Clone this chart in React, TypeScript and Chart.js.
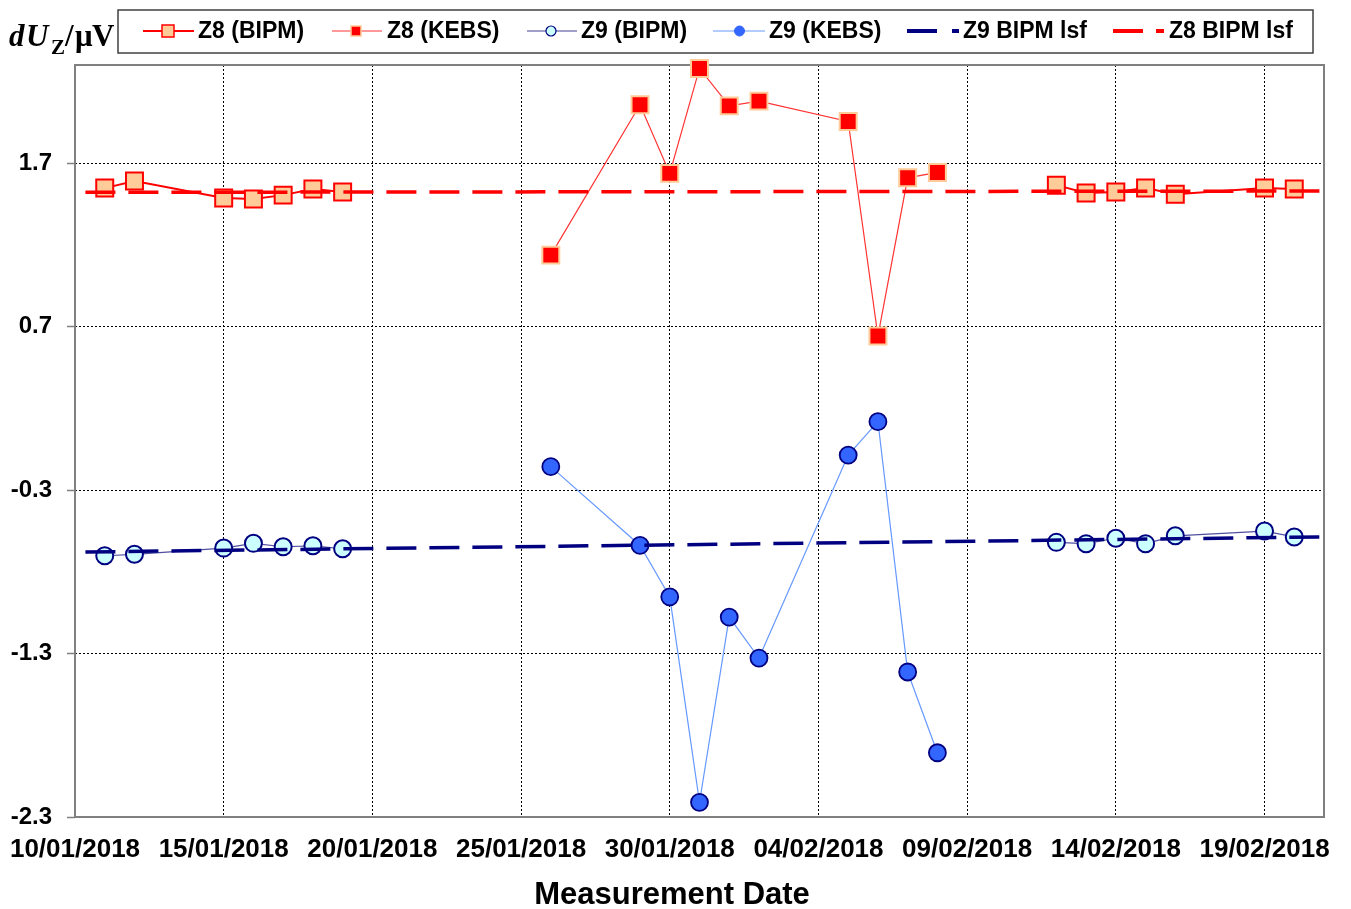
import React, { useEffect, useRef } from "react";
import { Chart, registerables } from "chart.js";

Chart.register(...registerables);

// ---------------- data ----------------
const BASE_DATE = "2018-01-10";
const X_MAX_DATE = "2018-02-21";
const X_TICK_DATES = [
  "2018-01-10", "2018-01-15", "2018-01-20", "2018-01-25", "2018-01-30",
  "2018-02-04", "2018-02-09", "2018-02-14", "2018-02-19",
];
const Y_MIN = -2.3;
const Y_MAX = 2.3;
const Y_TICKS = [-2.3, -1.3, -0.3, 0.7, 1.7];

const BIPM_DATES = [
  "2018-01-11", "2018-01-12", "2018-01-15", "2018-01-16", "2018-01-17", "2018-01-18", "2018-01-19",
  "2018-02-12", "2018-02-13", "2018-02-14", "2018-02-15", "2018-02-16", "2018-02-19", "2018-02-20",
];
const Z8_BIPM = [1.547, 1.59, 1.486, 1.48, 1.504, 1.541, 1.523, 1.565, 1.517, 1.523, 1.547, 1.51, 1.547, 1.541];
const Z9_BIPM = [-0.702, -0.693, -0.655, -0.626, -0.647, -0.641, -0.659, -0.62, -0.628, -0.595, -0.628, -0.58, -0.551, -0.587];

const KEBS_DATES = [
  "2018-01-26", "2018-01-29", "2018-01-30", "2018-01-31", "2018-02-01",
  "2018-02-02", "2018-02-05", "2018-02-06", "2018-02-07", "2018-02-08",
];
const Z8_KEBS = [1.137, 2.057, 1.637, 2.279, 2.05, 2.079, 1.955, 0.642, 1.61, 1.643];
const Z9_KEBS = [-0.157, -0.639, -0.953, -2.21, -1.077, -1.328, -0.086, 0.118, -1.413, -1.907];

const LSF_DATES = ["2018-01-10T08:24:00", "2018-02-20T20:24:00"];
const Z8_LSF = [1.521, 1.529];
const Z9_LSF = [-0.679, -0.587];

const SERIES_LABELS = ["Z8 (BIPM)", "Z8 (KEBS)", "Z9 (BIPM)", "Z9 (KEBS)", "Z9 BIPM lsf", "Z8 BIPM lsf"];
const X_TITLE = "Measurement Date";

// ---------------- helpers ----------------
const DAY_MS = 86400000;
const baseMs = Date.parse(BASE_DATE + "T00:00:00Z");
function dayOf(s: string): number {
  const iso = s.length <= 10 ? s + "T00:00:00Z" : s + "Z";
  return (Date.parse(iso) - baseMs) / DAY_MS;
}
function fmtDay(day: number): string {
  const d = new Date(baseMs + Math.round(day * DAY_MS));
  const dd = String(d.getUTCDate()).padStart(2, "0");
  const mm = String(d.getUTCMonth() + 1).padStart(2, "0");
  return `${dd}/${mm}/${d.getUTCFullYear()}`;
}
function pts(dates: string[], vals: number[]) {
  return dates.map((d, i) => ({ x: dayOf(d), y: vals[i] }));
}
const gapSegment = {
  borderColor: (ctx: any) => (ctx.p1.parsed.x - ctx.p0.parsed.x > 5 ? "rgba(0,0,0,0)" : undefined),
};

const SANS = "'Liberation Sans', Arial, sans-serif";
const SERIF = "'Liberation Serif', 'Times New Roman', serif";

// ---------------- plugins ----------------
const framePlugin = {
  id: "frame",
  beforeDatasetsDraw(chart: any) {
    const { ctx, chartArea: a } = chart;
    ctx.save();
    ctx.strokeStyle = "#808080";
    ctx.lineWidth = 2;
    ctx.strokeRect(a.left, a.top, a.right - a.left, a.bottom - a.top);
    ctx.restore();
  },
};

const decorPlugin = {
  id: "decor",
  afterDraw(chart: any) {
    const ctx: CanvasRenderingContext2D = chart.ctx;
    ctx.save();
    // legend box
    ctx.fillStyle = "#fff";
    ctx.fillRect(118, 10, 1195, 43);
    ctx.strokeStyle = "#404040";
    ctx.lineWidth = 1.5;
    ctx.strokeRect(118, 10, 1195, 43);
    const LY = 31;
    const line = (x0: number, x1: number, color: string, w: number) => {
      ctx.beginPath();
      ctx.strokeStyle = color;
      ctx.lineWidth = w;
      ctx.moveTo(x0, LY);
      ctx.lineTo(x1, LY);
      ctx.stroke();
    };
    const square = (cx: number, s: number, fill: string, stroke: string, bw: number) => {
      ctx.fillStyle = fill;
      ctx.fillRect(cx - s / 2, LY - s / 2, s, s);
      ctx.strokeStyle = stroke;
      ctx.lineWidth = bw;
      ctx.strokeRect(cx - s / 2, LY - s / 2, s, s);
    };
    const circle = (cx: number, r: number, fill: string, stroke: string, bw: number) => {
      ctx.beginPath();
      ctx.arc(cx, LY, r, 0, Math.PI * 2);
      ctx.fillStyle = fill;
      ctx.fill();
      ctx.strokeStyle = stroke;
      ctx.lineWidth = bw;
      ctx.stroke();
    };
    line(143, 194, "#FF0000", 2);
    square(168, 12, "#FFCC99", "#FF0000", 1.5);
    line(332, 382, "#FF3333", 1.2);
    square(356, 10, "#FF0000", "#FFCC99", 1.5);
    line(527, 577, "#404090", 1.2);
    circle(551, 5, "#CCFFFF", "#000080", 1.2);
    line(713, 765, "#6699FF", 1.2);
    circle(739.5, 5, "#3366FF", "#3366FF", 1);
    line(907, 937, "#000080", 4);
    line(952, 959, "#000080", 4);
    line(1113, 1143, "#FF0000", 4);
    line(1156, 1164, "#FF0000", 4);

    ctx.fillStyle = "#000";
    ctx.font = `bold 23px ${SANS}`;
    ctx.textBaseline = "middle";
    ctx.textAlign = "left";
    const textX = [198, 387, 581, 769, 963, 1169];
    SERIES_LABELS.forEach((t, i) => ctx.fillText(t, textX[i], LY + 1));

    // y-axis title  dU_Z/µV
    ctx.textBaseline = "alphabetic";
    ctx.font = `italic bold 31px ${SERIF}`;
    ctx.fillText("d", 9, 46);
    ctx.fillText("U", 26, 46);
    ctx.font = `bold 21px ${SERIF}`;
    ctx.fillText("Z", 51, 54);
    ctx.font = `bold 31px ${SERIF}`;
    ctx.fillText("/", 65, 46);
    ctx.fillText("\u03bc", 75, 46);
    ctx.fillText("V", 92, 46);

    // x-axis title
    ctx.font = `bold 31px ${SANS}`;
    ctx.textAlign = "center";
    ctx.textBaseline = "middle";
    ctx.fillText(X_TITLE, 672, 895);
    ctx.restore();
  },
};

// ---------------- component ----------------
export default function App() {
  const canvasRef = useRef<HTMLCanvasElement | null>(null);

  useEffect(() => {
    if (!canvasRef.current) return;
    const chart = new Chart(canvasRef.current, {
      type: "line",
      data: {
        datasets: [
          {
            label: SERIES_LABELS[4],
            data: pts(LSF_DATES, Z9_LSF),
            borderColor: "#000080",
            borderWidth: 3.5,
            borderDash: [30, 13],
            pointRadius: 0,
            order: 0,
          },
          {
            label: SERIES_LABELS[5],
            data: pts(LSF_DATES, Z8_LSF),
            borderColor: "#FF0000",
            borderWidth: 3.5,
            borderDash: [30, 13],
            pointRadius: 0,
            order: 0,
          },
          {
            label: SERIES_LABELS[0],
            data: pts(BIPM_DATES, Z8_BIPM),
            borderColor: "#FF0000",
            borderWidth: 2,
            pointStyle: "rect",
            pointRadius: 12,
            pointBackgroundColor: "#FFCC99",
            pointBorderColor: "#FF0000",
            pointBorderWidth: 2,
            segment: gapSegment,
            order: 1,
          },
          {
            label: SERIES_LABELS[1],
            data: pts(KEBS_DATES, Z8_KEBS),
            borderColor: "#FF3333",
            borderWidth: 1.2,
            pointStyle: "rect",
            pointRadius: 12,
            pointBackgroundColor: "#FF0000",
            pointBorderColor: "#FFCC99",
            pointBorderWidth: 2,
            order: 1,
          },
          {
            label: SERIES_LABELS[2],
            data: pts(BIPM_DATES, Z9_BIPM),
            borderColor: "#5050A0",
            borderWidth: 1.2,
            pointStyle: "circle",
            pointRadius: 8.5,
            pointBackgroundColor: "#CCFFFF",
            pointBorderColor: "#000080",
            pointBorderWidth: 2,
            segment: gapSegment,
            order: 1,
          },
          {
            label: SERIES_LABELS[3],
            data: pts(KEBS_DATES, Z9_KEBS),
            borderColor: "#6699FF",
            borderWidth: 1.2,
            pointStyle: "circle",
            pointRadius: 8.5,
            pointBackgroundColor: "#3366FF",
            pointBorderColor: "#000080",
            pointBorderWidth: 1.8,
            order: 1,
          },
        ],
      },
      options: {
        animation: false,
        responsive: true,
        maintainAspectRatio: false,
        layout: { padding: { top: 65, right: 27, left: 0, bottom: 0 } },
        elements: { line: { tension: 0 } },
        datasets: { line: { clip: false } } as any,
        plugins: { legend: { display: false }, tooltip: { enabled: false } },
        scales: {
          x: {
            type: "linear",
            min: 0,
            max: dayOf(X_MAX_DATE),
            afterBuildTicks: (s: any) => {
              s.ticks = X_TICK_DATES.map((d) => ({ value: dayOf(d) }));
            },
            afterFit: (s: any) => {
              s.height = 92;
              s.paddingLeft = 0;
              s.paddingRight = 0;
            },
            ticks: {
              autoSkip: false,
              maxRotation: 0,
              minRotation: 0,
              padding: 17,
              color: "#000",
              font: { family: SANS, size: 26, weight: "bold" },
              callback: (v: any) => fmtDay(Number(v)),
            },
            grid: { color: "#000", lineWidth: 1, drawTicks: false },
            border: { display: false, dash: [2, 2] },
          },
          y: {
            min: Y_MIN,
            max: Y_MAX,
            afterBuildTicks: (s: any) => {
              s.ticks = Y_TICKS.map((v) => ({ value: v }));
            },
            afterFit: (s: any) => {
              s.width = 75;
              s.paddingTop = 0;
              s.paddingBottom = 0;
            },
            ticks: {
              padding: 15,
              color: "#000",
              font: { family: SANS, size: 24, weight: "bold" },
              callback: (v: any) => Number(v).toFixed(1),
            },
            grid: {
              color: "#000",
              lineWidth: 1,
              drawTicks: true,
              tickLength: 8,
              tickColor: "#808080",
              tickWidth: 1.5,
              tickBorderDash: [],
            } as any,
            border: { display: false, dash: [2, 2] },
          },
        },
      },
      plugins: [framePlugin, decorPlugin],
    } as any);
    return () => chart.destroy();
  }, []);

  return (
    <div style={{ position: "fixed", left: 0, top: 0, width: 1351, height: 909, background: "#fff" }}>
      <canvas ref={canvasRef} />
    </div>
  );
}
